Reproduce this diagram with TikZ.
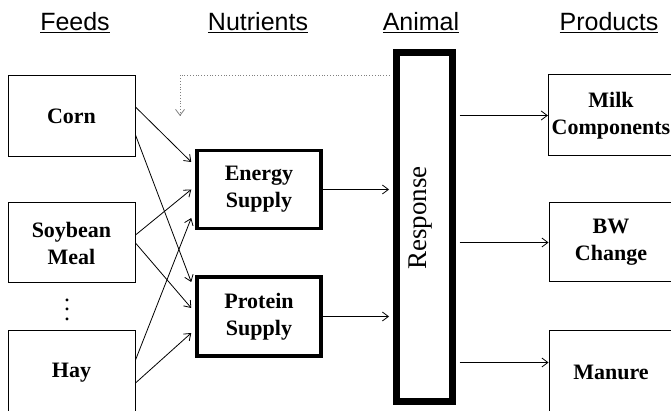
\documentclass[tikz,border=0pt]{standalone}
\usepackage{fontspec}
\setmainfont{Liberation Serif}
\setsansfont{Liberation Sans}
\usetikzlibrary{arrows.meta}
\begin{document}
\begin{tikzpicture}[x=1pt,y=-1pt,
    head/.style={font=\sffamily\fontsize{25}{28}\selectfont, anchor=base},
    feedbox/.style={draw, line width=1pt, minimum width=127pt, align=center,
        font=\bfseries\fontsize{22}{27}\selectfont},
    nutbox/.style={draw, line width=3.5pt, minimum width=124pt, minimum height=78pt,
        align=center, font=\bfseries\fontsize{22}{27}\selectfont},
    flow/.style={line width=0.8pt, -{Straight Barb[length=6pt,width=9pt]}},
    feedback/.style={flow, gray, dotted}]
    \useasboundingbox (0,0) rectangle (671,411);

    % Headers
    \node[head] (hfeeds) at (75,31) {\underline{Feeds}};
    \node[head] (hnutr) at (258,31) {\underline{Nutrients}};
    \node[head] (hanim) at (421,31) {\underline{Animal}};
    \node[head] (hprod) at (609,31) {\underline{Products}};

    % Feeds
    \node[feedbox, minimum height=81pt] (corn) at (71.5,116.5) {Corn};
    \node[feedbox, minimum height=80pt] (soy) at (71.5,243) {Soybean\\Meal};
    \node[scale=2.4, inner sep=0pt] (dots) at (67,302.5) {$\vdots$};
    \node[feedbox, minimum height=85pt] (hay) at (71.5,372.5) {Hay};

    % Nutrients
    \node[nutbox] (energy) at (259,189.5) {Energy\\Supply};
    \node[nutbox, minimum height=79pt] (protein) at (259,316.5) {Protein\\Supply};

    % Animal
    \node[draw, line width=7pt, minimum width=56pt, minimum height=349pt] (resp) at (424.5,227) {};
    \node[rotate=90, font=\fontsize{27}{30}\selectfont] (resptxt) at (421,218) {Response};

    % Products
    \node[feedbox, minimum width=124pt, minimum height=81pt] (milk) at (611,115.5) {Milk\\Components};
    \node[feedbox, minimum width=124pt, minimum height=79pt] (bw) at (611,242.5) {BW\\Change};
    \node[feedbox, minimum width=124pt, minimum height=85pt] (manure) at (611,372.5) {Manure};

    % Feeds -> nutrients
    \draw[flow] ([yshift=9.5pt]corn.east) -- ([xshift=-4pt,yshift=27.5pt]energy.west);
    \draw[flow] ([yshift=-18.5pt]corn.east) -- ([xshift=-4pt,yshift=34.5pt]protein.west);
    \draw[flow] ([yshift=8pt]soy.east) -- ([xshift=-4pt]energy.west);
    \draw[flow] ([yshift=0pt]soy.east) -- ([xshift=-4pt,yshift=8.5pt]protein.west);
    \draw[flow] ([yshift=12.5pt]hay.east) -- ([xshift=-4pt,yshift=-28.5pt]energy.west);
    \draw[flow] ([yshift=-10.5pt]hay.east) -- ([xshift=-4pt,yshift=-16.5pt]protein.west);

    % Nutrients -> animal
    \draw[flow, shorten >=4pt] (energy.east) -- (energy.east -| resp.west);
    \draw[flow, shorten >=4pt] (protein.east) -- (protein.east -| resp.west);

    % Animal -> products
    \draw[flow, shorten <=3.5pt] (milk.west -| resp.east) -- (milk.west);
    \draw[flow, shorten <=3.5pt] (bw.west -| resp.east) -- (bw.west);
    \draw[flow, shorten <=3.5pt] ([yshift=10pt]manure.west -| resp.east) -- ([yshift=10pt]manure.west);

    % Feedback
    \coordinate (fb) at (180,116);
    \draw[feedback, shorten <=3.5pt] ([yshift=152pt]resp.west) -| (fb);
\end{tikzpicture}
\end{document}
